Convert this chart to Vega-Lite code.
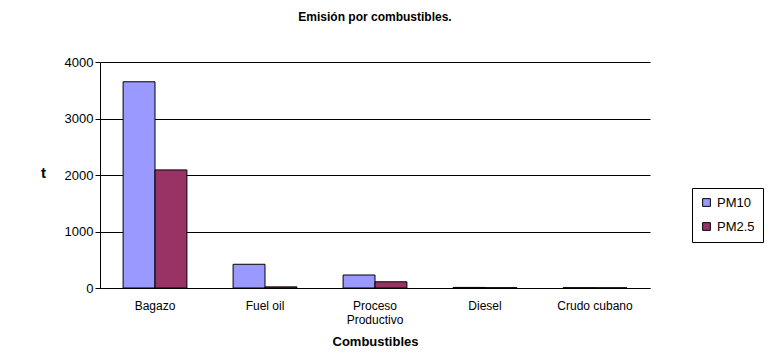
{
  "$schema": "https://vega.github.io/schema/vega-lite/v6.json",
  "autosize": "none",
  "width": 550,
  "height": 226,
  "padding": {"left": 100, "top": 62, "right": 124, "bottom": 73},
  "background": "white",
  "config": {
    "font": "Liberation Sans",
    "view": {"stroke": null}
  },
  "title": {
    "text": "Emisión por combustibles.",
    "fontSize": 12,
    "fontWeight": "bold",
    "color": "black",
    "anchor": "middle",
    "offset": 32
  },
  "data": {
    "values": [
      {"combustible": "Bagazo", "serie": "PM10", "valor": 3650},
      {"combustible": "Bagazo", "serie": "PM2.5", "valor": 2090},
      {"combustible": "Fuel oil", "serie": "PM10", "valor": 420},
      {"combustible": "Fuel oil", "serie": "PM2.5", "valor": 20},
      {"combustible": "Proceso Productivo", "serie": "PM10", "valor": 230},
      {"combustible": "Proceso Productivo", "serie": "PM2.5", "valor": 110},
      {"combustible": "Diesel", "serie": "PM10", "valor": 10},
      {"combustible": "Diesel", "serie": "PM2.5", "valor": 5},
      {"combustible": "Crudo cubano", "serie": "PM10", "valor": 5},
      {"combustible": "Crudo cubano", "serie": "PM2.5", "valor": 3}
    ]
  },
  "mark": {"type": "bar", "stroke": "black", "strokeWidth": 1, "xOffset": 10},
  "encoding": {
    "x": {
      "field": "combustible",
      "type": "nominal",
      "sort": null,
      "scale": {"paddingInner": 0.42, "paddingOuter": 0.21},
      "axis": {
        "title": "Combustibles",
        "titleFontSize": 13,
        "titleFontWeight": "bold",
        "titleColor": "black",
        "titlePadding": 10,
        "labelAngle": 0,
        "labelFontSize": 12,
        "labelColor": "black",
        "labelPadding": 12,
        "ticks": false,
        "domainColor": "black",
        "labelExpr": "datum.label == 'Proceso Productivo' ? ['Proceso', 'Productivo'] : datum.label"
      }
    },
    "xOffset": {"field": "serie", "type": "nominal", "sort": ["PM10", "PM2.5"]},
    "y": {
      "field": "valor",
      "type": "quantitative",
      "scale": {"domain": [0, 4000]},
      "axis": {
        "title": "t",
        "titleAngle": 0,
        "titleFontSize": 15,
        "titleFontWeight": "bold",
        "titleColor": "black",
        "titleX": -57,
        "titleY": 118,
        "values": [0, 1000, 2000, 3000, 4000],
        "format": "d",
        "labelFontSize": 13,
        "labelColor": "black",
        "grid": true,
        "gridColor": "black",
        "gridWidth": 1,
        "tickColor": "black",
        "tickSize": 5,
        "domainColor": "black"
      }
    },
    "color": {
      "field": "serie",
      "type": "nominal",
      "sort": ["PM10", "PM2.5"],
      "scale": {"domain": ["PM10", "PM2.5"], "range": ["#9999FF", "#993366"]},
      "legend": {
        "title": null,
        "orient": "none",
        "legendX": 592,
        "legendY": 126,
        "symbolType": "square",
        "symbolSize": 60,
        "symbolStrokeColor": "black",
        "symbolStrokeWidth": 1,
        "labelFontSize": 13,
        "labelColor": "black",
        "rowPadding": 10,
        "padding": 8,
        "strokeColor": "black",
        "fillColor": "white"
      }
    }
  }
}
